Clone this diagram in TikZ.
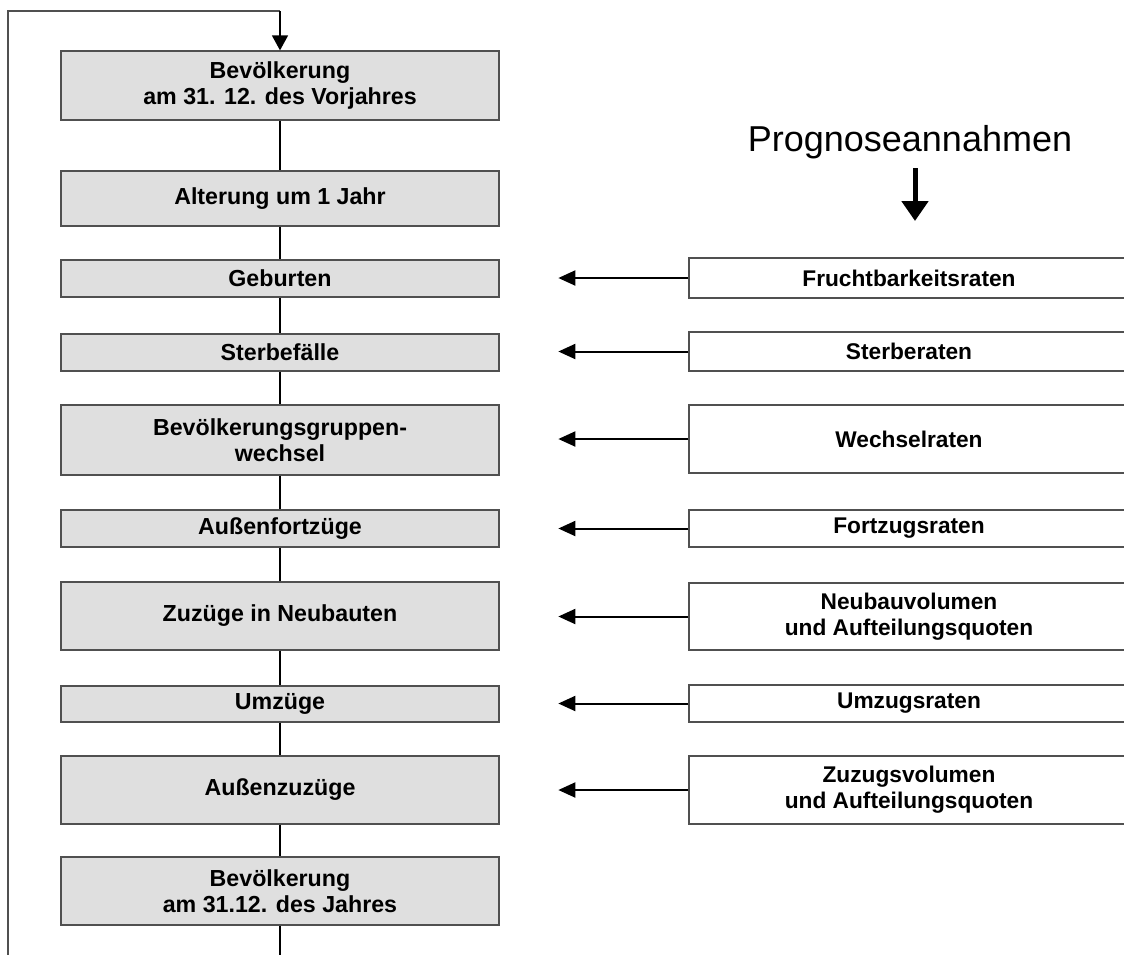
\documentclass[tikz,border=0pt]{standalone}
\usepackage{fontspec}
\setmainfont{Liberation Sans}
\usetikzlibrary{arrows.meta}
\definecolor{boxgray}{HTML}{DFDFDF}
\definecolor{edgegray}{HTML}{505050}
\tikzset{
  x=1pt, y=-1pt,
  lbox/.style={draw=edgegray, line width=1.3pt, fill=boxgray, minimum width=438pt, inner sep=0pt, align=center, font=\fontsize{23.2}{26}\selectfont\bfseries},
  rbox/.style={draw=edgegray, line width=1.3pt, fill=white, minimum width=440pt, inner sep=0pt, align=center, font=\fontsize{22.7}{26}\selectfont\bfseries},
  link/.style={draw=black, line width=1.1pt},
  frame/.style={draw=edgegray, line width=1.2pt},
  feed/.style={draw=black, line width=2pt, -{Triangle[length=17pt,width=15pt]}},
}
\begin{document}
\begin{tikzpicture}
\useasboundingbox (0,0) rectangle (1124,954);
\clip (0,0) rectangle (1124,954);
% left column
\node[lbox, minimum height=69pt] (L1) at (280,85.5) {Bevölkerung\\am 31. 12. des Vorjahres};
\node[lbox, minimum height=55pt] (L2) at (280,198.5) {Alterung um 1 Jahr};
\node[lbox, minimum height=37pt] (L3) at (280,278.5) {Geburten};
\node[lbox, minimum height=37pt] (L4) at (280,352.5) {Sterbefälle};
\node[lbox, minimum height=70pt] (L5) at (280,440) {Bevölkerungsgruppen-\\wechsel};
\node[lbox, minimum height=37pt] (L6) at (280,528.5) {Außenfortzüge};
\node[lbox, minimum height=68pt] (L7) at (280,616) {Zuzüge in Neubauten};
\node[lbox, minimum height=36pt] (L8) at (280,704) {Umzüge};
\node[lbox, minimum height=68pt] (L9) at (280,790) {Außenzuzüge};
\node[lbox, minimum height=68pt] (L10) at (280,891) {Bevölkerung\\am 31.12. des Jahres};
% right column
\node[rbox, minimum height=40pt] (R1) at (909,278) {Fruchtbarkeitsraten};
\node[rbox, minimum height=39pt] (R2) at (909,351.5) {Sterberaten};
\node[rbox, minimum height=68pt] (R3) at (909,439) {Wechselraten};
\node[rbox, minimum height=37pt] (R4) at (909,528.5) {Fortzugsraten};
\node[rbox, minimum height=67pt] (R5) at (909,616.5) {Neubauvolumen\\und Aufteilungsquoten};
\node[rbox, minimum height=37pt] (R6) at (909,703.5) {Umzugsraten};
\node[rbox, minimum height=68pt] (R7) at (909,790) {Zuzugsvolumen\\und Aufteilungsquoten};
% heading
\node[font=\fontsize{36}{40}\selectfont, inner sep=0pt] (P) at (910,142) {Prognoseannahmen};
\coordinate (Pa) at (915,168);
\coordinate (Pb) at (915,221);
\draw[line width=5pt, -{Triangle[length=20pt,width=26pt]}] (Pa) -- (Pb);
% vertical chain
\foreach \a/\b in {L1/L2,L2/L3,L3/L4,L4/L5,L5/L6,L6/L7,L7/L8,L8/L9,L9/L10}
  \draw[link] (\a.south) -- (\b.north);
% loop
\coordinate (bot) at (280,960);
\coordinate (bl) at (8,960);
\coordinate (tl) at (8,11);
\draw[link] (L10.south) -- (bot);
\draw[frame] (bl) -- (tl) -- (tl -| L1.north);
\draw[link, line width=1.6pt, -{Triangle[length=15pt,width=16pt]}] (tl -| L1.north) -- (L1.north);
% side arrows
\foreach \r in {R1,R2,R3,R4,R5,R6,R7}
  \draw[feed] (\r.west) -- ++(-130,0) coordinate (\r tip);
\end{tikzpicture}
\end{document}
